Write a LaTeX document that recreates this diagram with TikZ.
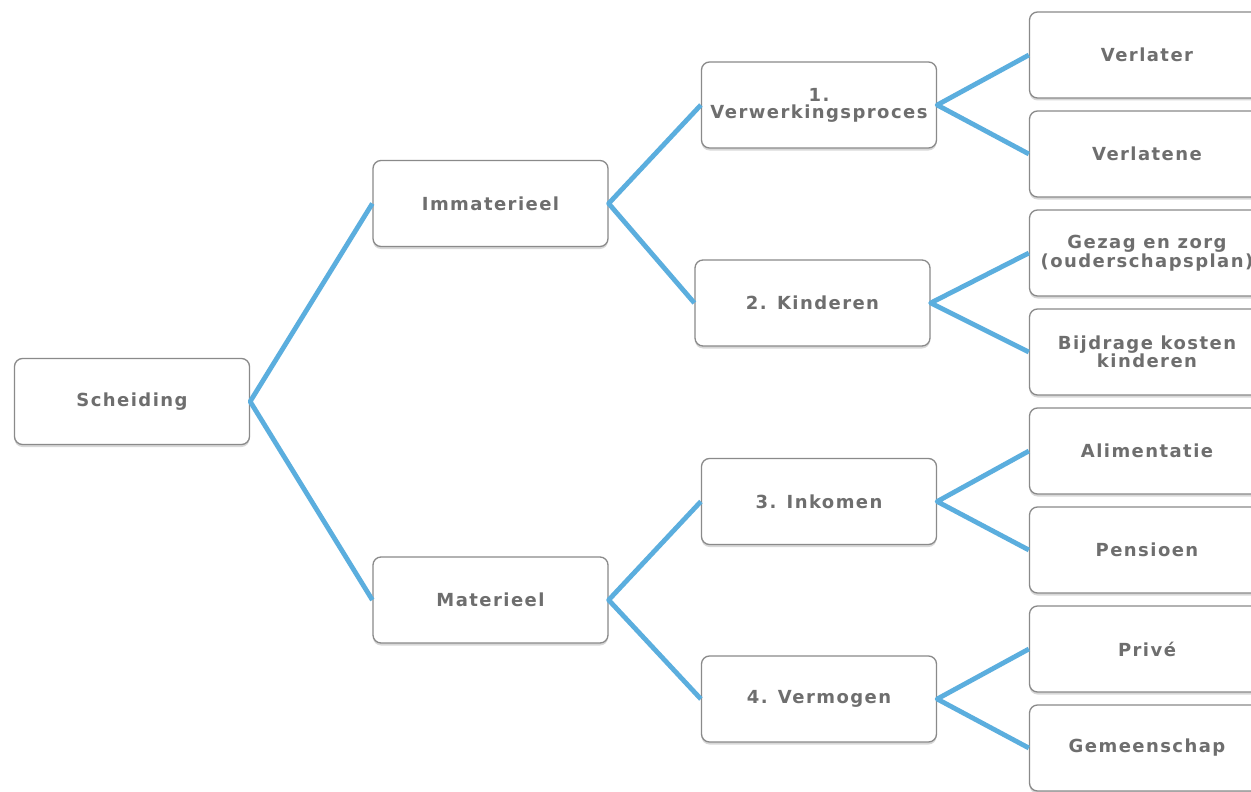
\documentclass[tikz,border=0pt]{standalone}
\usepackage{fontspec}
\setmainfont{DejaVu Sans}[LetterSpace=8]
\usetikzlibrary{shadows}
\definecolor{conncol}{HTML}{5BAEDE}
\definecolor{boxline}{HTML}{8A8A8A}
\definecolor{txtgray}{HTML}{6E6E6E}
\tikzset{
  box/.style={draw=boxline, line width=1.3pt, rounded corners=8pt, fill=white,
    minimum width=235pt, minimum height=86pt, inner sep=2pt, align=center,
    text=txtgray, font=\fontsize{18}{17}\selectfont\bfseries,
    drop shadow={opacity=0.3, shadow xshift=0pt, shadow yshift=-2.5pt, fill=gray}},
  conn/.style={draw=conncol, line width=4.8pt, line join=round}
}
\begin{document}
\begin{tikzpicture}[x=1pt,y=-1pt]
\useasboundingbox (0,0) rectangle (1251,792);
\clip (0,0) rectangle (1251,792);
\fill[white] (0,0) rectangle (1251,792);
% nodes
\node[box] (S)  at (132,401.5) {Scheiding};
\node[box] (Im) at (490.5,203.5) {Immaterieel};
\node[box] (Ma) at (490.5,600) {Materieel};
\node[box] (V1) at (819,105) {1.\\Verwerkingsproces};
\node[box] (K2) at (812.5,303) {2. Kinderen};
\node[box] (I3) at (819,501.5) {3. Inkomen};
\node[box] (V4) at (819,699) {4. Vermogen};
\node[box] (a1) at (1147,55)  {Verlater};
\node[box] (a2) at (1147,154) {Verlatene};
\node[box] (b1) at (1147,253) {Gezag en zorg\\(ouderschapsplan)};
\node[box] (b2) at (1147,352) {Bijdrage kosten\\kinderen};
\node[box] (c1) at (1147,451) {Alimentatie};
\node[box] (c2) at (1147,550) {Pensioen};
\node[box] (d1) at (1147,649) {Privé};
\node[box] (d2) at (1147,748) {Gemeenschap};
% connectors
\draw[conn] (Im.west) -- (S.east) -- (Ma.west);
\draw[conn] (V1.west) -- (Im.east) -- (K2.west);
\draw[conn] (I3.west) -- (Ma.east) -- (V4.west);
\draw[conn] (a1.west) -- (V1.east) -- (a2.west);
\draw[conn] (b1.west) -- (K2.east) -- (b2.west);
\draw[conn] (c1.west) -- (I3.east) -- (c2.west);
\draw[conn] (d1.west) -- (V4.east) -- (d2.west);
\end{tikzpicture}
\end{document}
